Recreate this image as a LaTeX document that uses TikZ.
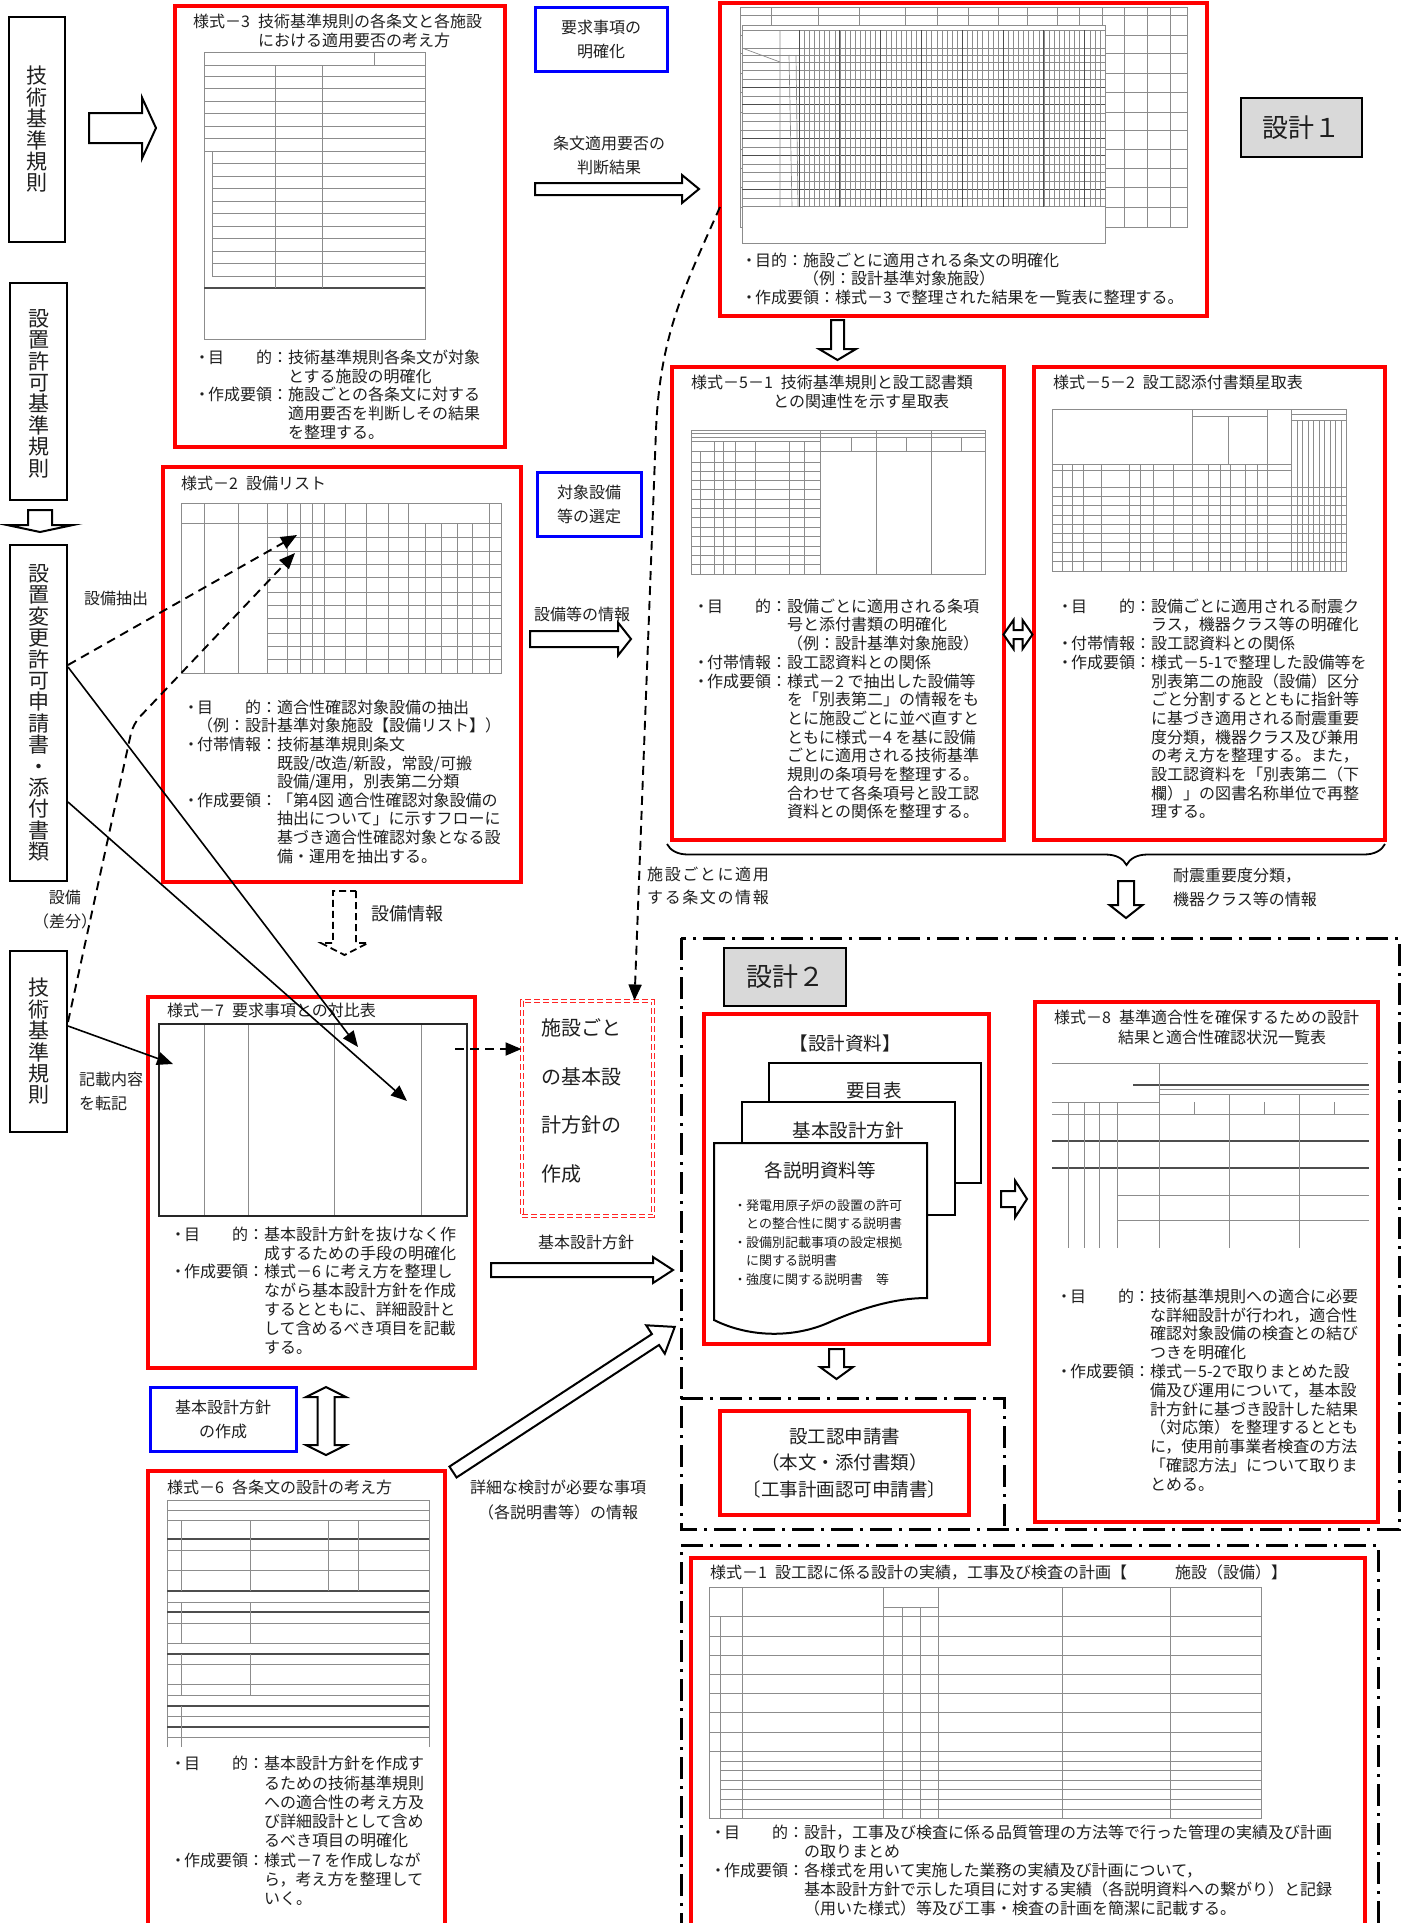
\documentclass[tikz,border=0pt]{standalone}
\usepackage{fontspec}
\setmainfont{Noto Sans CJK JP}
\usetikzlibrary{arrows.meta,calc,fit,decorations.pathreplacing}

\definecolor{ink}{gray}{0.12}
\definecolor{gridgray}{gray}{0.55}
\definecolor{boxgray}{gray}{0.85}

% item heading of the form "・目　　的：" set to a fixed width
\newcommand\hd[1]{\makebox[92pt][l]{\makebox[12pt][c]{・}#1\makebox[0pt][l]{：}}}
\newcommand\hb{\hspace*{92pt}}

% hollow block arrow: [style]{tail x,y}{angle}{length}{shaft half}{head half}{head length}
\newcommand\blockarrow[7][]{%
  \draw[hollow,#1,shift={(#2)},rotate=#3]
    (0,-#5) -- ({#4-#7},-#5) -- ({#4-#7},-#6) -- (#4,0) -- ({#4-#7},#6)
    -- ({#4-#7},#5) -- (0,#5) -- cycle;}
% hollow double arrow: {centre x,y}{angle}{half length}{shaft half}{head half}{head length}
\newcommand\dblarrow[6]{%
  \draw[hollow,shift={(#1)},rotate=#2]
    (-#3,0) -- ({-#3+#6},-#5) -- ({-#3+#6},-#4) -- ({#3-#6},-#4) -- ({#3-#6},-#5)
    -- (#3,0) -- ({#3-#6},#5) -- ({#3-#6},#4) -- ({-#3+#6},#4) -- ({-#3+#6},#5) -- cycle;}

\begin{document}
\begin{tikzpicture}[x=1pt,y=-1pt,
  redbox/.style={draw=red,line width=3.5pt,inner sep=0pt},
  bluebox/.style={draw=blue,line width=3pt,inner sep=0pt},
  blkbox/.style={draw=black,line width=2pt,inner sep=0pt},
  graybox/.style={draw=black,line width=2pt,fill=boxgray,inner sep=0pt},
  tbl/.style={draw=gridgray,line width=0.7pt},
  tblk/.style={draw=gridgray!55!black,line width=1.1pt},
  hollow/.style={draw=black,line width=2pt,fill=white,line join=miter},
  txt/.style={font=\fontsize{16}{18.8}\selectfont,text=ink,align=left,inner sep=0pt,anchor=north west},
  lbl/.style={font=\fontsize{16}{24}\selectfont,text=ink,align=center,inner sep=0pt},
  vtxt/.style={font=\fontsize{21}{21.4}\selectfont,text=ink,align=center,inner sep=0pt},
  conn/.style={line width=1.6pt,-{Triangle[length=16pt,width=13pt]}},
  dconn/.style={conn,line width=1.9pt,dash pattern=on 9pt off 6pt},
  dashdot/.style={line width=3pt,dash pattern=on 22pt off 7pt on 3pt off 7pt},
]
\useasboundingbox (0,0) rectangle (1408,1923);
\fill[white] (0,0) rectangle (1408,1923);

%================ form sheets (grids) ================
% form 3
\draw[tbl] (204,52) rectangle (425,339);
\draw[tbl] (204,65) -- (425,65) (374,52) -- (374,65) (204,76) -- (425,76);
\foreach \y in {88,101,113,126,138,151} \draw[tbl] (204,\y) -- (425,\y);
\foreach \y in {163,176,188,201,213,226,238,251,263,276} \draw[tbl] (212,\y) -- (425,\y);
\draw[tblk] (204,288) -- (425,288);
\draw[tbl] (275,65) -- (275,288) (322,65) -- (322,288) (212,151) -- (212,276);

% form 4 (two overlapping sheets)
\draw[tbl] (740,7) rectangle (1187,227);
\foreach \x in {771,818,859,905,937,968,998,1027,1057,1079,1102,1124,1147,1170} \draw[tbl] (\x,7) -- (\x,227);
\foreach \y in {15,35,53,73,92,112,130,149,168,187,207} \draw[tbl] (740,\y) -- (1187,\y);
\filldraw[fill=white,draw=gridgray,line width=0.7pt] (742,25) rectangle (1105,243);
\foreach \y in {30,48,55} \draw[tbl] (742,\y) -- (1105,\y);
\foreach \i in {0,...,17} \draw[tbl] (742,62+8.5*\i) -- (1105,62+8.5*\i);
\foreach \y in {87.5,104.5,138.5,155.5,189.5} \draw[tblk] (742,\y) -- (1105,\y);
\draw[tbl] (780,30) -- (780,207) (742,48) -- (780,62) (789,55) -- (792,207) (796,55) -- (798,207);
\foreach \i in {0,...,60} \draw[tbl,line width=0.4pt] (799+5.1*\i,30) -- (799+5.1*\i,207);
\foreach \i in {0,8,...,56} \draw[tblk,line width=0.9pt] (799+5.1*\i,30) -- (799+5.1*\i,207);

% form 5-1
\draw[tbl] (691,430) rectangle (985,574);
\draw[tbl] (691,433) -- (985,433) (691,437) -- (985,437) (691,441) -- (820,441) (691,451) -- (985,451);
\foreach \y in {462,471,480,489,499,508,517,527,536,546,555,564} \draw[tbl] (691,\y) -- (820,\y);
\foreach \x in {714,723,735,755,789,804} \draw[tbl] (\x,441) -- (\x,574);
\draw[tbl] (700,451) -- (700,574) (820,430) -- (820,574) (876,430) -- (876,574) (931,430) -- (931,574);
\foreach \x in {851,906,961} \draw[tbl] (\x,437) -- (\x,451);

% form 5-2
\draw[tbl] (1052,409) rectangle (1346,571);
\draw[tbl] (1192,409) -- (1192,464) (1228,416) -- (1228,464) (1267,409) -- (1267,464) (1291,409) -- (1291,571);
\draw[tbl] (1192,416) -- (1267,416) (1052,464) -- (1291,464) (1052,470) -- (1291,470) (1052,487) -- (1346,487);
\foreach \i in {1,...,8} \draw[tbl] (1052,487+9.3*\i) -- (1346,487+9.3*\i);
\foreach \x in {1062,1072,1083,1101,1129,1140,1153,1173,1192,1208,1220,1230,1245,1257,1267} \draw[tbl] (\x,464) -- (\x,571);
\foreach \i in {0,...,9} \draw[tbl] (1297+5.5*\i,420) -- (1297+5.5*\i,571);
\draw[tbl] (1291,414) -- (1346,414) (1291,420) -- (1346,420);

% form 2
\draw[tbl] (181,503) rectangle (501,673);
\draw[tbl] (181,523) -- (501,523);
\foreach \x in {204,238,267,287,300,312,324,345,366,388,408,489} \draw[tbl] (\x,503) -- (\x,673);
\foreach \x in {425,441,457,472} \draw[tbl] (\x,523) -- (\x,673);
\foreach \y in {537,551,564,577,592,605,618,633,646,659} \draw[tbl] (267,\y) -- (501,\y);

% form 7
\foreach \x in {204,248,334,421} \draw[tbl] (\x,1024) -- (\x,1216);
\draw[draw=black!85,line width=2.5pt] (159,1024) rectangle (467,1216);

% form 6
\draw[tbl] (167,1747) -- (167,1500) -- (429,1500) -- (429,1747);
\foreach \y in {1510,1520,1550,1570,1602,1623,1643,1664,1684,1695,1716,1737} \draw[tbl] (167,\y) -- (429,\y);
\foreach \y in {1539,1591,1612,1654,1706,1727} \draw[tblk] (167,\y) -- (429,\y);
\draw[tbl] (181,1520) -- (181,1591) (250,1520) -- (250,1591) (328,1520) -- (328,1591) (358,1520) -- (358,1591);
\draw[tbl] (181,1602) -- (181,1643) (250,1602) -- (250,1643) (181,1654) -- (181,1695) (250,1654) -- (250,1695) (181,1706) -- (181,1747);

% form 8
\draw[tbl] (1052,1063) -- (1368,1063);
\draw[tblk] (1133,1085) -- (1369,1085);
\draw[tbl] (1159,1089) -- (1369,1089) (1159,1094) -- (1369,1094) (1052,1102) -- (1159,1102) (1052,1114) -- (1369,1114);
\draw[tblk] (1052,1141) -- (1369,1141) (1052,1168) -- (1369,1168);
\draw[tbl] (1159,1063) -- (1159,1248) (1229,1094) -- (1229,1248) (1299,1094) -- (1299,1248);
\foreach \x in {1068,1084,1099,1117} \draw[tbl] (\x,1102) -- (\x,1248);
\foreach \x in {1194,1264,1334} \draw[tbl] (\x,1102) -- (\x,1114);
\foreach \y in {1195,1220} \draw[tbl] (1117,\y) -- (1369,\y);

% form 1
\draw[tbl] (709,1587) rectangle (1261,1818);
\draw[tbl] (742,1587) -- (742,1818) (883,1587) -- (883,1818) (938,1587) -- (938,1818) (1062,1587) -- (1062,1818) (1170,1587) -- (1170,1818);
\draw[tbl] (720,1616) -- (720,1818) (902,1607) -- (902,1818) (920,1607) -- (920,1818);
\draw[tbl] (883,1607) -- (938,1607) (709,1616) -- (1261,1616);
\foreach \y in {1636,1655,1674,1693,1712,1732,1751} \draw[tbl] (709,\y) -- (1261,\y);
\foreach \y in {1761,1770,1780,1789,1799,1809} \draw[tbl] (720,\y) -- (1261,\y);

%================ design-2 frames ================
\draw[dashdot] (681,938) rectangle (1399,1529);
\draw[dashdot] (681,1398) -- (1004,1398) -- (1004,1529);
\draw[dashdot] (681,1935) -- (681,1545) -- (1378,1545) -- (1378,1935);

%================ boxes ================
\node[blkbox,fit={(9,17) (65,242)}] (A) {};
\node[blkbox,fit={(10,283) (67,500)}] (B) {};
\node[blkbox,fit={(10,545) (67,881)}] (C) {};
\node[blkbox,fit={(10,951) (67,1132)}] (D) {};
\node[vtxt] at (A.center) {技\\術\\基\\準\\規\\則};
\node[vtxt] at ($(B.center)+(0,2)$) {設\\置\\許\\可\\基\\準\\規\\則};
\node[vtxt] at (C.center) {設\\置\\変\\更\\許\\可\\申\\請\\書\\・\\添\\付\\書\\類};
\node[vtxt] at (D.center) {技\\術\\基\\準\\規\\則};

\node[redbox,fit={(175,6) (505,447)}] (S3) {};
\node[redbox,fit={(720,3) (1207,316)}] (S4) {};
\node[redbox,fit={(672,367) (1004,840)}] (S51) {};
\node[redbox,fit={(1034,367) (1385,840)}] (S52) {};
\node[redbox,fit={(163,467) (521,882)}] (S2) {};
\node[redbox,fit={(148,997) (475,1368)}] (S7) {};
\node[redbox,fit={(148,1471) (445,1940)}] (S6) {};
\node[redbox,fit={(704,1014) (989,1344)}] (DS) {};
\node[redbox,fit={(720,1411) (969,1515)}] (AP) {};
\node[redbox,fit={(1035,1002) (1378,1522)}] (S8) {};
\node[redbox,fit={(691,1558) (1365,1940)}] (S1) {};
\node[draw=red!85,line width=1pt,double=white,double distance=2pt,dash pattern=on 6pt off 3pt,inner sep=0pt,fit={(522,1001) (653,1216)}] (P) {};

\node[bluebox,fit={(535,7) (667,71)}] (Q1) {};
\node[bluebox,fit={(537,472) (641,536)}] (Q2) {};
\node[bluebox,fit={(150,1387) (296,1451)}] (Q3) {};
\node[lbl] at (Q1.center) {要求事項の\\明確化};
\node[lbl] at (Q2.center) {対象設備\\等の選定};
\node[lbl] at (Q3.center) {基本設計方針\\の作成};

\node[graybox,fit={(1241,98) (1362,157)}] (K1) {};
\node[graybox,fit={(724,948) (846,1006)}] (K2) {};
\node[font=\fontsize{26}{30}\selectfont,text=ink,inner sep=0pt] at (K1.center) {設計１};
\node[font=\fontsize{26}{30}\selectfont,text=ink,inner sep=0pt] at (K2.center) {設計２};

%================ form texts ================
\node[txt] at (193,13.5) {様式－3\enspace 技術基準規則の各条文と各施設\\\hspace*{65pt}における適用要否の考え方};
\node[txt] at (196,349.5) {\hd{目　　的}技術基準規則各条文が対象\\\hb とする施設の明確化\\\hd{作成要領}施設ごとの各条文に対する\\\hb 適用要否を判断しその結果\\\hb を整理する。};

\node[txt,font=\fontsize{16}{18.5}\selectfont] at (743,252.5) {\makebox[12pt][c]{・}目的：施設ごとに適用される条文の明確化\\\hspace*{60pt}（例：設計基準対象施設）\\\makebox[12pt][c]{・}作成要領：様式－3 で整理された結果を一覧表に整理する。};

\node[txt] at (181,475.5) {様式－2\enspace 設備リスト};
\node[txt,font=\fontsize{16}{18.6}\selectfont] at (185,699.5) {\hd{目　　的}適合性確認対象設備の抽出\\\hspace*{12pt}（例：設計基準対象施設【設備リスト】）\\\hd{付帯情報}技術基準規則条文\\\hb 既設/改造/新設，常設/可搬\\\hb 設備/運用，別表第二分類\\\hd{作成要領}「第4図 適合性確認対象設備の\\\hb 抽出について」に示すフローに\\\hb 基づき適合性確認対象となる設\\\hb 備・運用を抽出する。};

\node[txt] at (691,374.5) {様式－5－1\enspace 技術基準規則と設工認書類\\\hspace*{82pt}との関連性を示す星取表};
\node[txt,font=\fontsize{16}{18.7}\selectfont] at (695,598.5) {\hd{目　　的}設備ごとに適用される条項\\\hb 号と添付書類の明確化\\\hb （例：設計基準対象施設）\\\hd{付帯情報}設工認資料との関係\\\hd{作成要領}様式－2 で抽出した設備等\\\hb を「別表第二」の情報をも\\\hb とに施設ごとに並べ直すと\\\hb ともに様式－4 を基に設備\\\hb ごとに適用される技術基準\\\hb 規則の条項号を整理する。\\\hb 合わせて各条項号と設工認\\\hb 資料との関係を整理する。};

\node[txt] at (1053,374.5) {様式－5－2\enspace 設工認添付書類星取表};
\node[txt,font=\fontsize{16}{18.7}\selectfont] at (1059,598.5) {\hd{目　　的}設備ごとに適用される耐震ク\\\hb ラス，機器クラス等の明確化\\\hd{付帯情報}設工認資料との関係\\\hd{作成要領}様式－5-1で整理した設備等を\\\hb 別表第二の施設（設備）区分\\\hb ごと分割するとともに指針等\\\hb に基づき適用される耐震重要\\\hb 度分類，機器クラス及び兼用\\\hb の考え方を整理する。また，\\\hb 設工認資料を「別表第二（下\\\hb 欄）」の図書名称単位で再整\\\hb 理する。};

\node[txt] at (167,1002.5) {様式－7\enspace 要求事項との対比表};
\node[txt] at (172,1226.5) {\hd{目　　的}基本設計方針を抜けなく作\\\hb 成するための手段の明確化\\\hd{作成要領}様式－6 に考え方を整理し\\\hb ながら基本設計方針を作成\\\hb するとともに、詳細設計と\\\hb して含めるべき項目を記載\\\hb する。};

\node[txt] at (167,1479.5) {様式－6\enspace 各条文の設計の考え方};
\node[txt,font=\fontsize{16}{19.3}\selectfont] at (172,1756) {\hd{目　　的}基本設計方針を作成す\\\hb るための技術基準規則\\\hb への適合性の考え方及\\\hb び詳細設計として含め\\\hb るべき項目の明確化\\\hd{作成要領}様式－7 を作成しなが\\\hb ら，考え方を整理して\\\hb いく。};

\node[txt,font=\fontsize{16}{20}\selectfont] at (1054,1009.5) {様式－8\enspace 基準適合性を確保するための設計\\\hspace*{64pt}結果と適合性確認状況一覧表};
\node[txt] at (1058,1288.5) {\hd{目　　的}技術基準規則への適合に必要\\\hb な詳細設計が行われ，適合性\\\hb 確認対象設備の検査との結び\\\hb つきを明確化\\\hd{作成要領}様式－5-2で取りまとめた設\\\hb 備及び運用について，基本設\\\hb 計方針に基づき設計した結果\\\hb （対応策）を整理するととも\\\hb に，使用前事業者検査の方法\\\hb 「確認方法」について取りま\\\hb とめる。};

\node[txt] at (710,1564.5) {様式－1\enspace 設工認に係る設計の実績，工事及び検査の計画【　　　施設（設備）】};
\node[txt,font=\fontsize{16}{19}\selectfont] at (712,1824.5) {\hd{目　　的}設計，工事及び検査に係る品質管理の方法等で行った管理の実績及び計画\\\hb の取りまとめ\\\hd{作成要領}各様式を用いて実施した業務の実績及び計画について，\\\hb 基本設計方針で示した項目に対する実績（各説明資料への繋がり）と記録\\\hb （用いた様式）等及び工事・検査の計画を簡潔に記載する。};

%================ design documents ================
\node[font=\fontsize{18.5}{22}\selectfont,text=ink,inner sep=0pt] at (845,1043) {【設計資料】};
\filldraw[fill=white,draw=black,line width=2pt] (769,1063) rectangle (981,1183);
\filldraw[fill=white,draw=black,line width=2pt] (742,1102) rectangle (955,1215);
\filldraw[fill=white,draw=black,line width=2pt] (714,1143) -- (927,1143) -- (927,1298)
  .. controls (895,1298) and (862,1308) .. (830,1322)
  .. controls (795,1338) and (750,1338) .. (714,1320) -- cycle;
\node[font=\fontsize{18.5}{22}\selectfont,text=ink,inner sep=0pt] at (874,1090) {要目表};
\node[font=\fontsize{18.5}{22}\selectfont,text=ink,inner sep=0pt] at (848,1130) {基本設計方針};
\node[font=\fontsize{18.5}{22}\selectfont,text=ink,inner sep=0pt] at (820,1170) {各説明資料等};
\node[txt,font=\fontsize{13}{18.6}\selectfont] at (734,1199) {\makebox[12pt][c]{・}発電用原子炉の設置の許可\\\hspace*{12pt}との整合性に関する説明書\\\makebox[12pt][c]{・}設備別記載事項の設定根拠\\\hspace*{12pt}に関する説明書\\\makebox[12pt][c]{・}強度に関する説明書　等};

\node[font=\fontsize{18.5}{26.5}\selectfont,text=ink,align=center,inner sep=0pt] at (AP.center) {設工認申請書\\（本文・添付書類）\\〔工事計画認可申請書〕};

\node[txt,font=\fontsize{20}{48.5}\selectfont] at (541,1018.5) {施設ごと\\の基本設\\計方針の\\作成};

%================ labels ================
\node[lbl] at (609,155) {条文適用要否の\\判断結果};
\node[lbl] at (582,614) {設備等の情報};
\node[lbl] at (116,598) {設備抽出};
\node[lbl] at (65,910) {設備\\（差分）};
\node[txt,font=\fontsize{16}{24}\selectfont] at (79,1071.5) {記載内容\\を転記};
\node[txt,font=\fontsize{18}{20}\selectfont] at (371,905.5) {設備情報};
\node[txt,font=\fontsize{16}{23}\selectfont\addfontfeature{LetterSpace=10}] at (647,866.5) {施設ごとに適用\\する条文の情報};
\node[txt,font=\fontsize{16}{24}\selectfont] at (1173,867.5) {耐震重要度分類，\\機器クラス等の情報};
\node[lbl] at (586,1242) {基本設計方針};
\node[lbl,font=\fontsize{16}{25}\selectfont] at (558,1500) {詳細な検討が必要な事項\\（各説明書等）の情報};

%================ block arrows ================
\blockarrow{89,128}{0}{67}{15}{30.5}{14}
\blockarrow{40,510}{-90}{22}{12}{33}{7}
\blockarrow{535,189}{0}{164}{6}{14}{17}
\blockarrow{837.5,320}{-90}{40}{6.5}{18.5}{11}
\blockarrow{530,639}{0}{101}{8}{16.5}{13}
\blockarrow{1126,881}{-90}{37}{8}{16.5}{13}
\blockarrow{491,1270}{0}{182}{7}{13}{20}
\blockarrow{453,1472}{33.2}{265}{6.5}{17}{23}
\blockarrow{1001,1199}{0}{26}{8}{18.5}{12}
\blockarrow{836.5,1349}{-90}{30}{7.5}{16.5}{12}
\blockarrow[dash pattern=on 7pt off 4pt,line width=1.8pt]{344.5,891}{-90}{64}{11.5}{23.5}{12}
\dblarrow{1018,634.5}{0}{14.5}{4.5}{14.5}{10}
\dblarrow{326,1421}{90}{34}{8.5}{20}{10}

% brace gathering forms 5-1 and 5-2
\draw[line width=1.8pt,decorate,decoration={brace,mirror,amplitude=21pt,aspect=0.64}] (667,844) -- (1385,844);

%================ connectors ================
\coordinate (t2a) at (297,535);
\coordinate (t2b) at (295,553);
\coordinate (t7a) at (358,1047);
\coordinate (t7b) at (407,1101);
\coordinate (t7c) at (173,1064);
\coordinate (t7r) at (455,1049);
\coordinate (s4d) at (720,207);

\draw[dconn] ($(C.north east)+(0,121)$) -- (t2a);
\draw[dconn,rounded corners=10pt] ($(D.north east)+(0,72)$) -- (133,724) -- (t2b);
\draw[conn] ($(C.north east)+(0,123)$) -- (t7a);
\draw[conn] ($(C.north east)+(0,258)$) -- (t7b);
\draw[conn] ($(D.north east)+(0,76)$) -- (t7c);
\draw[dconn] (t7r) -- (P.west |- t7r);
\draw[dconn] (s4d) .. controls (684,288) and (660,335) .. (656,430) -- ($(P.north east)+(-19,0)$);

\end{tikzpicture}
\end{document}
